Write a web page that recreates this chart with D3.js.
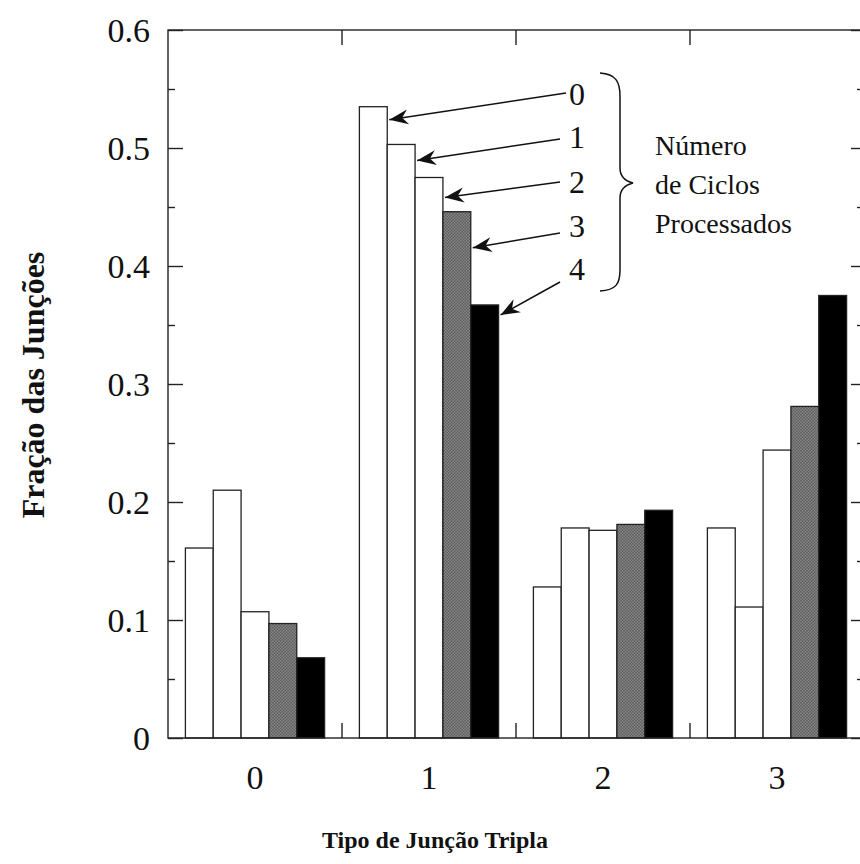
<!DOCTYPE html>
<html>
<head>
<meta charset="utf-8">
<script src="https://cdn.jsdelivr.net/npm/d3@7"></script>
<style>
  html, body { margin: 0; padding: 0; background: #fff; }
  svg { display: block; }
  text { font-family: "Liberation Serif", "Times New Roman", serif; fill: #111; }
</style>
</head>
<body>
<svg id="chart" width="860" height="864"></svg>
<script>
// Triple-junction type categories and cycle counts
const categories = ["0", "1", "2", "3"];
const cycles = ["0", "1", "2", "3", "4"];

// Fraction of junctions per category, one array per number of processed cycles
const cycle0 = [0.161, 0.535, 0.128, 0.178];
const cycle1 = [0.210, 0.503, 0.178, 0.111];
const cycle2 = [0.107, 0.475, 0.176, 0.244];
const cycle3 = [0.097, 0.446, 0.181, 0.281];
const cycle4 = [0.068, 0.367, 0.193, 0.375];
const seriesValues = [cycle0, cycle1, cycle2, cycle3, cycle4];

const yTicks = [0, 0.1, 0.2, 0.3, 0.4, 0.5, 0.6];
const yMinorTicks = [0.05, 0.15, 0.25, 0.35, 0.45, 0.55];

const xTitle = "Tipo de Junção Tripla";
const yTitle = "Fração das Junções";
const braceLines = ["Número", "de Ciclos", "Processados"];

const svg = d3.select("#chart");
const plot = { left: 168, right: 864, top: 30, bottom: 738 };

const x = d3.scaleBand().domain(categories)
  .range([plot.left, plot.right]).paddingInner(0.2).paddingOuter(0.1);
const xs = d3.scaleBand().domain(cycles).range([0, x.bandwidth()]);
const y = d3.scaleLinear().domain([0, 0.6]).range([plot.bottom, plot.top]);

// fine dotted hatch for the third cycle
const defs = svg.append("defs");
const pat = defs.append("pattern").attr("id", "hatch")
  .attr("width", 3).attr("height", 3).attr("patternUnits", "userSpaceOnUse");
pat.append("rect").attr("width", 3).attr("height", 3).attr("fill", "#999");
pat.append("rect").attr("width", 1.5).attr("height", 1.5).attr("fill", "#4a4a4a");
pat.append("rect").attr("x", 1.5).attr("y", 1.5).attr("width", 1.5).attr("height", 1.5).attr("fill", "#4a4a4a");

defs.append("marker").attr("id", "arrow")
  .attr("viewBox", "-20 -9 22 18").attr("refX", 0).attr("refY", 0)
  .attr("markerWidth", 22).attr("markerHeight", 18)
  .attr("markerUnits", "userSpaceOnUse").attr("orient", "auto")
  .append("path").attr("d", "M0,0 L-19,-7.5 L-13,0 L-19,7.5 Z").attr("fill", "#111");

const fills = ["#fff", "#fff", "#fff", "url(#hatch)", "#000"];

// bars
const groups = svg.append("g").selectAll("g").data(categories).join("g")
  .attr("transform", d => `translate(${x(d)},0)`);
groups.selectAll("rect")
  .data((c, ci) => cycles.map((s, si) => ({ s, si, v: seriesValues[si][ci] })))
  .join("rect")
  .attr("x", d => xs(d.s))
  .attr("y", d => y(d.v))
  .attr("width", xs.bandwidth())
  .attr("height", d => y(0) - y(d.v))
  .attr("fill", d => fills[d.si])
  .attr("stroke", "#222").attr("stroke-width", 1.3);

// frame
const frame = svg.append("g").attr("stroke", "#222").attr("stroke-width", 1.4).attr("fill", "none");
frame.append("rect").attr("x", plot.left).attr("y", plot.top)
  .attr("width", plot.right - plot.left).attr("height", plot.bottom - plot.top);

function tickAxis(axis, tx, values, size) {
  const g = svg.append("g").attr("transform", `translate(${tx},0)`)
    .call(axis(y).tickValues(values).tickSize(size).tickFormat(""));
  g.select(".domain").remove();
  g.selectAll("line").attr("stroke", "#222").attr("stroke-width", 1.4);
}
// left and right axes, ticks pointing inward
tickAxis(d3.axisRight, plot.left, yTicks, 15);
tickAxis(d3.axisRight, plot.left, yMinorTicks, 7);
tickAxis(d3.axisLeft, plot.right, yTicks, 13);
tickAxis(d3.axisLeft, plot.right, yMinorTicks, 7);

// y tick labels
svg.append("g").selectAll("text").data(yTicks).join("text")
  .attr("x", 150).attr("y", d => y(d)).attr("dy", "0.36em")
  .attr("text-anchor", "end").attr("font-size", 34)
  .text(d => d === 0 ? "0" : d3.format(".1f")(d));

// x ticks at category boundaries
const bounds = categories.slice(1).map(c => x(c) - x.step() * x.paddingInner() / 2);
svg.append("g").selectAll("line").data(bounds).join("line")
  .attr("x1", d => d).attr("x2", d => d).attr("y1", plot.bottom).attr("y2", plot.bottom - 15)
  .attr("stroke", "#222").attr("stroke-width", 1.4);
svg.append("g").selectAll("line").data(bounds).join("line")
  .attr("x1", d => d).attr("x2", d => d).attr("y1", plot.top).attr("y2", plot.top + 15)
  .attr("stroke", "#222").attr("stroke-width", 1.4);

// x tick labels
svg.append("g").selectAll("text").data(categories).join("text")
  .attr("x", d => x(d) + x.bandwidth() / 2).attr("y", 789)
  .attr("text-anchor", "middle").attr("font-size", 34).text(d => d);

// axis titles
svg.append("text").attr("x", 435).attr("y", 848).attr("text-anchor", "middle")
  .attr("font-size", 24).attr("font-weight", "bold").text(xTitle);
svg.append("text").attr("transform", "translate(44,385) rotate(-90)")
  .attr("text-anchor", "middle").attr("font-size", 32).attr("font-weight", "bold").text(yTitle);

// cycle annotations pointing at the category-1 bars
const annot = [
  { tail: [566, 93], dy: 13, label: 105 },
  { tail: [560, 139], dy: 16, label: 148 },
  { tail: [560, 182], dy: 20, label: 193 },
  { tail: [560, 233], dy: 36, label: 237 },
  { tail: [560, 282], dy: 10, label: 280 }
];
const ag = svg.append("g");
cycles.forEach((s, i) => {
  const v = seriesValues[i][1];
  const tipX = x("1") + xs(s) + xs.bandwidth() + 2;
  const tipY = y(v) + annot[i].dy;
  ag.append("line")
    .attr("x1", annot[i].tail[0]).attr("y1", annot[i].tail[1])
    .attr("x2", tipX).attr("y2", tipY)
    .attr("stroke", "#111").attr("stroke-width", 1.5)
    .attr("marker-end", "url(#arrow)");
  ag.append("text").attr("x", 577).attr("y", annot[i].label)
    .attr("text-anchor", "middle").attr("font-size", 32).text(s);
});

// brace grouping the cycle labels
svg.append("path")
  .attr("d", "M600,73 C616,74 620,82 620,96 L620,168 C620,177 625,181 633,183 C625,185 620,189 620,198 L620,270 C620,284 616,290 600,291")
  .attr("fill", "none").attr("stroke", "#111").attr("stroke-width", 1.5);

svg.append("g").selectAll("text").data(braceLines).join("text")
  .attr("x", 655).attr("y", (d, i) => 155 + i * 39)
  .attr("font-size", 28).text(d => d);
</script>
</body>
</html>
